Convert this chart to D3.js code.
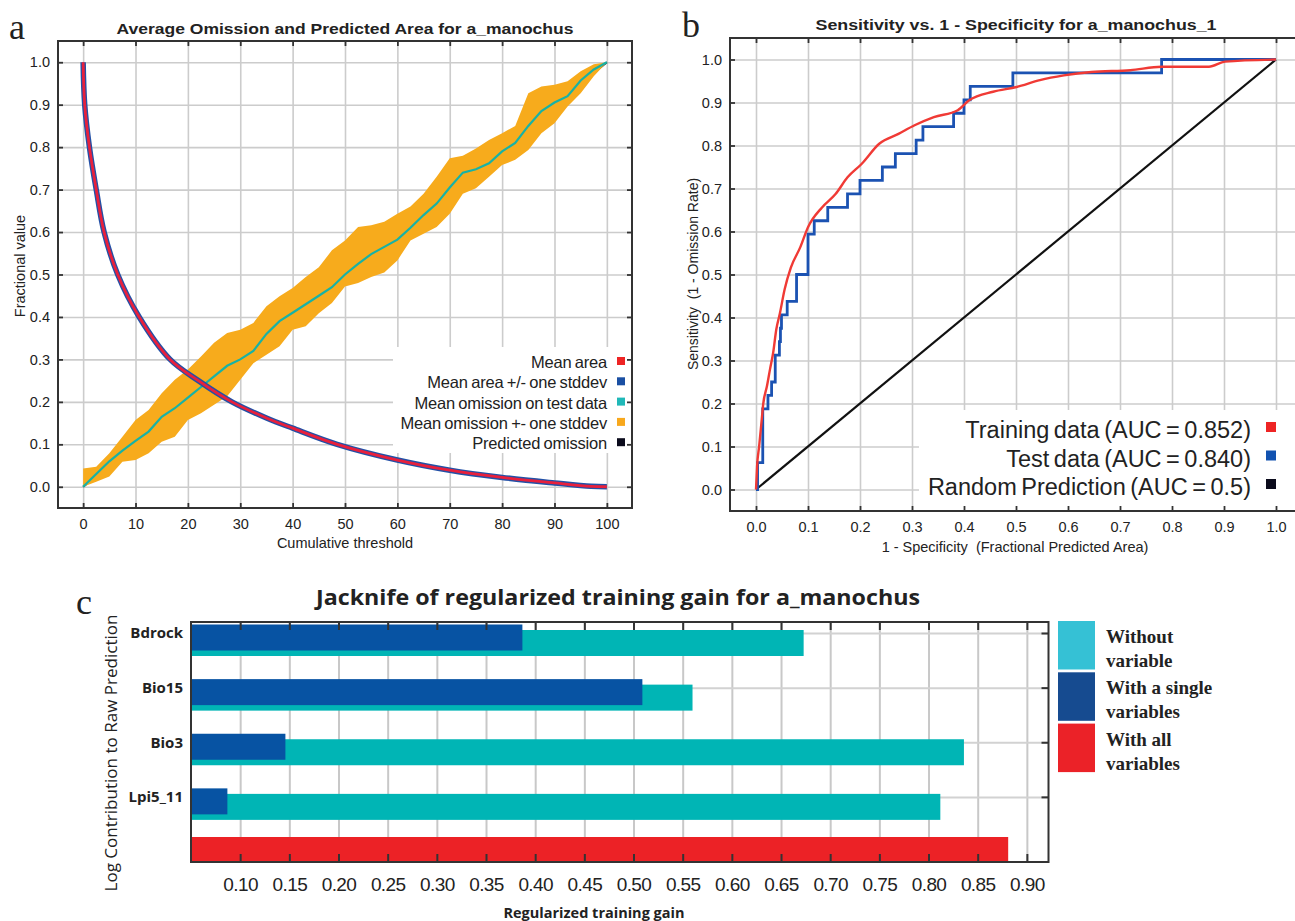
<!DOCTYPE html>
<html lang="en">
<head>
<meta charset="UTF-8">
<title>MaxEnt results for a_manochus</title>
<script src="https://cdn.jsdelivr.net/npm/d3@7"></script>
<style>
  body { margin: 0; background: #fff; }
  text { font-family: "Liberation Sans", Arial, sans-serif; fill: #222; }
</style>
</head>
<body>
<script>
// ---------- panel a : omission / predicted area ----------
var thresholds    = [0, 2.5, 5, 7.5, 10, 12.5, 15, 17.5, 20, 22.5, 25, 27.5, 30, 32.5, 35, 37.5, 40, 42.5, 45, 47.5, 50,
                     52.5, 55, 57.5, 60, 62.5, 65, 67.5, 70, 72.5, 75, 77.5, 80, 82.5, 85, 87.5, 90, 92.5, 95, 97.5, 100];
var omissionMean  = [0, 0.03, 0.06, 0.085, 0.108, 0.13, 0.165, 0.185, 0.21, 0.235, 0.26, 0.285, 0.30, 0.32, 0.36, 0.39, 0.41, 0.43, 0.45, 0.47, 0.50,
                     0.525, 0.548, 0.565, 0.582, 0.61, 0.64, 0.667, 0.705, 0.74, 0.748, 0.762, 0.79, 0.81, 0.85, 0.885, 0.905, 0.92, 0.957, 0.983, 1.0];
var omissionUpper = [0.043, 0.047, 0.079, 0.118, 0.157, 0.181, 0.22, 0.252, 0.276, 0.307, 0.339, 0.362, 0.37, 0.386, 0.425, 0.449, 0.468, 0.494, 0.517, 0.557, 0.58,
                     0.612, 0.616, 0.624, 0.643, 0.66, 0.69, 0.73, 0.774, 0.78, 0.797, 0.817, 0.833, 0.85, 0.927, 0.943, 0.947, 0.955, 0.979, 0.995, 1.0];
var omissionLower = [0, 0.012, 0.024, 0.059, 0.063, 0.079, 0.106, 0.118, 0.157, 0.173, 0.193, 0.213, 0.252, 0.291, 0.311, 0.331, 0.37, 0.378, 0.409, 0.433, 0.472,
                     0.48, 0.494, 0.505, 0.533, 0.58, 0.596, 0.612, 0.643, 0.69, 0.703, 0.73, 0.758, 0.77, 0.793, 0.833, 0.856, 0.896, 0.927, 0.967, 1.0];
var areaThreshold = [0, 0.3, 1.2, 2.5, 4.0, 6.6, 10.7, 16.6, 22, 28.4, 35, 40, 48.5, 60, 70, 80, 90, 97, 100];
var areaMean      = [1, 0.9, 0.8, 0.7, 0.6, 0.5, 0.4, 0.3, 0.25, 0.2, 0.162, 0.138, 0.1, 0.063, 0.039, 0.022, 0.009, 0.001, 0];
var predictedX    = [0, 100];
var predictedY    = [0, 1];
var aXTicks = [0, 10, 20, 30, 40, 50, 60, 70, 80, 90, 100];
var aYTicks = [0, 0.1, 0.2, 0.3, 0.4, 0.5, 0.6, 0.7, 0.8, 0.9, 1.0];
var aLegend = ["Mean area", "Mean area +/- one stddev", "Mean omission on test data", "Mean omission +- one stddev", "Predicted omission"];

// ---------- panel b : ROC ----------
var trainFPR = [0, 0.002, 0.006, 0.011, 0.014, 0.021, 0.027, 0.033, 0.039, 0.046, 0.055, 0.067, 0.085, 0.1, 0.127, 0.153, 0.176, 0.203, 0.237, 0.274, 0.305, 0.342, 0.388, 0.41, 0.456, 0.501, 0.546, 0.592, 0.645, 0.72, 0.78, 0.871, 0.902, 1];
var trainTPR = [0, 0.053, 0.1, 0.162, 0.2, 0.24, 0.28, 0.318, 0.372, 0.41, 0.465, 0.516, 0.563, 0.61, 0.656, 0.687, 0.726, 0.757, 0.804, 0.827, 0.847, 0.866, 0.882, 0.905, 0.925, 0.936, 0.952, 0.963, 0.971, 0.975, 0.983, 0.983, 0.995, 1];
var testFPR  = [0, 0.003, 0.013, 0.023, 0.03, 0.037, 0.045, 0.047, 0.049, 0.06, 0.078, 0.1, 0.112, 0.138, 0.176, 0.2, 0.243, 0.268, 0.308, 0.321, 0.38, 0.4, 0.412, 0.494, 0.78, 1.0];
var testTPR  = [0, 0.0625, 0.1875, 0.219, 0.25, 0.3125, 0.344, 0.375, 0.406, 0.4375, 0.5, 0.594, 0.625, 0.656, 0.6875, 0.719, 0.75, 0.781, 0.8125, 0.844, 0.875, 0.906, 0.9375, 0.969, 1.0, 1.0];
var randomFPR = [0, 1];
var randomTPR = [0, 1];
var bTicks = [0, 0.1, 0.2, 0.3, 0.4, 0.5, 0.6, 0.7, 0.8, 0.9, 1.0];
var bLegend = ["Training data (AUC = 0.852)", "Test data (AUC = 0.840)", "Random Prediction (AUC = 0.5)"];

// ---------- panel c : jackknife ----------
var variables     = ["Bdrock", "Bio15", "Bio3", "Lpi5_11"];
var withoutGain   = [0.673, 0.560, 0.836, 0.812];
var singleGain    = [0.387, 0.509, 0.146, 0.087];
var allGain       = 0.881;
var cTicks = [0.10, 0.15, 0.20, 0.25, 0.30, 0.35, 0.40, 0.45, 0.50, 0.55, 0.60, 0.65, 0.70, 0.75, 0.80, 0.85, 0.90];
var cLegend = [["Without", "variable"], ["With a single", "variables"], ["With all", "variables"]];

var svg = d3.select("body").append("svg")
    .attr("width", 1295)
    .attr("height", 921);

function noDomain(s) { s.select(".domain").remove(); }

// light grid behind a panel
function frame(g, x, y, xt, yt, gridColor) {
    var x0 = x.range()[0], x1 = x.range()[1];
    var yb = y.range()[0], ytop = y.range()[1];
    g.append("g").attr("transform", "translate(0," + yb + ")")
        .call(d3.axisBottom(x).tickValues(xt).tickSize(-(yb - ytop)).tickFormat(""))
        .call(noDomain)
        .selectAll("line").attr("stroke", gridColor).attr("stroke-width", 1.6);
    g.append("g").attr("transform", "translate(" + x0 + ",0)")
        .call(d3.axisLeft(y).tickValues(yt).tickSize(-(x1 - x0)).tickFormat(""))
        .call(noDomain)
        .selectAll("line").attr("stroke", gridColor).attr("stroke-width", 1.6);
}

// inward ticks on the four sides and the box
function edges(g, x, y, xt, yt) {
    var x0 = x.range()[0], x1 = x.range()[1];
    var yb = y.range()[0], ytop = y.range()[1];
    var sets = [
        [d3.axisTop(x).tickValues(xt), "translate(0," + ytop + ")"],
        [d3.axisBottom(x).tickValues(xt), "translate(0," + yb + ")"],
        [d3.axisLeft(y).tickValues(yt), "translate(" + x0 + ",0)"],
        [d3.axisRight(y).tickValues(yt), "translate(" + x1 + ",0)"]
    ];
    sets.forEach(function(s) {
        g.append("g").attr("transform", s[1])
            .call(s[0].tickSize(-5).tickFormat(""))
            .call(noDomain)
            .selectAll("line").attr("stroke", "#333").attr("stroke-width", 1.8);
    });
    g.append("rect")
        .attr("x", x0).attr("y", ytop)
        .attr("width", x1 - x0).attr("height", yb - ytop)
        .attr("fill", "none").attr("stroke", "#333").attr("stroke-width", 2);
}

function labels(g, x, y, xt, yt, fmtX, fmtY, size) {
    g.append("g").attr("transform", "translate(0," + y.range()[0] + ")")
        .call(d3.axisBottom(x).tickValues(xt).tickSize(0).tickPadding(11).tickFormat(fmtX))
        .call(noDomain)
        .selectAll("text").style("font-size", size).attr("fill", "#333");
    g.append("g").attr("transform", "translate(" + x.range()[0] + ",0)")
        .call(d3.axisLeft(y).tickValues(yt).tickSize(0).tickPadding(8).tickFormat(fmtY))
        .call(noDomain)
        .selectAll("text").style("font-size", size).attr("fill", "#333");
}

// ================= panel a =================
var xA = d3.scaleLinear().domain([-4.8, 104.8]).range([58, 632]);
var yA = d3.scaleLinear().domain([-0.05, 1.05]).range([508, 41]);
var gA = svg.append("g");

frame(gA, xA, yA, aXTicks, aYTicks, "#cccccc");

gA.append("path")
    .datum(predictedX)
    .attr("fill", "none").attr("stroke", "#111").attr("stroke-width", 2)
    .attr("d", d3.line().x(function(d) { return xA(d); }).y(function(d, i) { return yA(predictedY[i]); }));

gA.append("path")
    .datum(thresholds)
    .attr("fill", "#f7ab1c")
    .attr("d", d3.area()
        .x(function(d) { return xA(d); })
        .y0(function(d, i) { return yA(omissionLower[i]); })
        .y1(function(d, i) { return yA(omissionUpper[i]); }));

gA.append("path")
    .datum(thresholds)
    .attr("fill", "none").attr("stroke", "#17b2a6").attr("stroke-width", 2.2)
    .attr("d", d3.line().x(function(d) { return xA(d); }).y(function(d, i) { return yA(omissionMean[i]); }));

var areaLine = d3.line().curve(d3.curveCatmullRom.alpha(0.5))
    .x(function(d) { return xA(d); })
    .y(function(d, i) { return yA(areaMean[i]); });
gA.append("path").datum(areaThreshold)
    .attr("fill", "none").attr("stroke", "#2350a6").attr("stroke-width", 5.5)
    .attr("d", areaLine);
gA.append("path").datum(areaThreshold)
    .attr("fill", "none").attr("stroke", "#e8203c").attr("stroke-width", 2.8)
    .attr("d", areaLine);

// legend a
var aColors = ["#ee2424", "#1a4fa3", "#20b8b8", "#f8a81c", "#0b0b1c"];
gA.append("rect").attr("x", 393).attr("y", 347).attr("width", 238).attr("height", 106).attr("fill", "#fff");
aLegend.forEach(function(t, i) {
    var cy = 362 + i * 20.3;
    gA.append("text").attr("x", 607).attr("y", cy + 6).attr("text-anchor", "end")
        .style("font-size", "16.5px").style("letter-spacing", "-0.2px").style("word-spacing", "-1px")
        .text(t);
    gA.append("rect").attr("x", 617).attr("y", cy - 5).attr("width", 8).attr("height", 8).attr("fill", aColors[i]);
});

edges(gA, xA, yA, aXTicks, aYTicks);
labels(gA, xA, yA, aXTicks, aYTicks, d3.format("d"), d3.format(".1f"), "14.5px");

gA.append("text").attr("x", 345).attr("y", 34).attr("text-anchor", "middle")
    .style("font-size", "15px").style("font-weight", "bold")
    .attr("textLength", 457).attr("lengthAdjust", "spacingAndGlyphs")
    .text("Average Omission and Predicted Area for a_manochus");
gA.append("text").attr("x", 345).attr("y", 548).attr("text-anchor", "middle")
    .style("font-size", "14.5px").attr("fill", "#333").text("Cumulative threshold");
gA.append("text").attr("transform", "translate(25,266) rotate(-90)").attr("text-anchor", "middle")
    .style("font-size", "14.5px").attr("fill", "#333").text("Fractional value");
svg.append("text").attr("x", 9).attr("y", 39)
    .style("font-family", "'Liberation Serif', 'DejaVu Serif', serif").style("font-size", "36px")
    .text("a");

// ================= panel b =================
var xB = d3.scaleLinear().domain([-0.05, 1.05]).range([730, 1302]);
var yB = d3.scaleLinear().domain([-0.05, 1.05]).range([511, 38]);
var gB = svg.append("g");

frame(gB, xB, yB, bTicks, bTicks, "#cccccc");

// legend box hides the grid under it
gB.append("rect").attr("x", 919).attr("y", 410).attr("width", 380).attr("height", 100).attr("fill", "#fff");

function rocLine(xs, ys, curve) {
    return d3.line().curve(curve)
        .x(function(d) { return xB(d); })
        .y(function(d, i) { return yB(ys[i]); })(xs);
}
gB.append("path").attr("fill", "none").attr("stroke", "#111").attr("stroke-width", 2.2)
    .attr("d", rocLine(randomFPR, randomTPR, d3.curveLinear));
gB.append("path").attr("fill", "none").attr("stroke", "#1b52b2").attr("stroke-width", 2.8)
    .attr("d", rocLine(testFPR, testTPR, d3.curveStepAfter));
gB.append("path").attr("fill", "none").attr("stroke", "#f03a35").attr("stroke-width", 2.4)
    .attr("d", rocLine(trainFPR, trainTPR, d3.curveMonotoneX));

var bColors = ["#ee2424", "#1252b0", "#0b0b1c"];
bLegend.forEach(function(t, i) {
    var cy = 430 + i * 28.5;
    gB.append("text").attr("x", 1251).attr("y", cy + 8).attr("text-anchor", "end")
        .style("font-size", "23.5px").style("word-spacing", "-2px").attr("fill", "#333")
        .text(t);
    gB.append("rect").attr("x", 1266).attr("y", cy - 8).attr("width", 10).attr("height", 10).attr("fill", bColors[i]);
});

edges(gB, xB, yB, bTicks, bTicks);
labels(gB, xB, yB, bTicks, bTicks, d3.format(".1f"), d3.format(".1f"), "14.5px");

gB.append("text").attr("x", 1016).attr("y", 30).attr("text-anchor", "middle")
    .style("font-size", "14px").style("font-weight", "bold")
    .attr("textLength", 401).attr("lengthAdjust", "spacingAndGlyphs")
    .text("Sensitivity vs. 1 - Specificity for a_manochus_1");
gB.append("text").attr("x", 1015).attr("y", 552).attr("text-anchor", "middle")
    .style("font-size", "14.5px").attr("fill", "#333").attr("xml:space", "preserve")
    .text("1 - Specificity  (Fractional Predicted Area)");
gB.append("text").attr("transform", "translate(698,274) rotate(-90)").attr("text-anchor", "middle")
    .style("font-size", "14px").attr("fill", "#333").attr("xml:space", "preserve")
    .text("Sensitivity  (1 - Omission Rate)");
svg.append("text").attr("x", 682).attr("y", 37)
    .style("font-family", "'Liberation Serif', 'DejaVu Serif', serif").style("font-size", "36px")
    .text("b");

// ================= panel c =================
var xC = d3.scaleLinear().domain([0.05, 0.922]).range([191, 1048.5]);
var yC = d3.scalePoint().domain(variables.concat(["all"])).range([633, 851.5]);
var gC = svg.append("g");
var yCtop = 622, yCbot = 862;

gC.append("g").attr("transform", "translate(0," + yCbot + ")")
    .call(d3.axisBottom(xC).tickValues(cTicks).tickSize(-(yCbot - yCtop)).tickFormat(""))
    .call(noDomain)
    .selectAll("line").attr("stroke", "#c8c8c8").attr("stroke-width", 2);
gC.append("g").attr("transform", "translate(191,0)")
    .call(d3.axisLeft(yC).tickValues(variables).tickSize(-(1048.5 - 191)).tickFormat(""))
    .call(noDomain)
    .selectAll("line").attr("stroke", "#d2d2d2").attr("stroke-width", 2);

gC.selectAll(".without").data(variables).enter().append("rect")
    .attr("x", xC(0.05))
    .attr("y", function(d) { return yC(d) - 3; })
    .attr("width", function(d, i) { return xC(withoutGain[i]) - xC(0.05); })
    .attr("height", 26)
    .attr("fill", "#00b5b5");
gC.selectAll(".single").data(variables).enter().append("rect")
    .attr("x", xC(0.05))
    .attr("y", function(d) { return yC(d) - 8.5; })
    .attr("width", function(d, i) { return xC(singleGain[i]) - xC(0.05); })
    .attr("height", 26)
    .attr("fill", "#0753a3");
gC.append("rect")
    .attr("x", xC(0.05))
    .attr("y", yC("all") - 14.5)
    .attr("width", xC(allGain) - xC(0.05))
    .attr("height", 25)
    .attr("fill", "#ec2226");

// frame + inward ticks
gC.append("g").attr("transform", "translate(0," + yCtop + ")")
    .call(d3.axisTop(xC).tickValues(cTicks).tickSize(-8).tickFormat(""))
    .call(noDomain)
    .selectAll("line").attr("stroke", "#333").attr("stroke-width", 2);
gC.append("g").attr("transform", "translate(0," + yCbot + ")")
    .call(d3.axisBottom(xC).tickValues(cTicks).tickSize(-8).tickFormat(""))
    .call(noDomain)
    .selectAll("line").attr("stroke", "#333").attr("stroke-width", 2);
gC.append("g").attr("transform", "translate(1048.5,0)")
    .call(d3.axisRight(yC).tickValues(variables).tickSize(-7).tickFormat(""))
    .call(noDomain)
    .selectAll("line").attr("stroke", "#333").attr("stroke-width", 2);
gC.append("rect").attr("x", 191).attr("y", yCtop).attr("width", 1048.5 - 191).attr("height", yCbot - yCtop)
    .attr("fill", "none").attr("stroke", "#333").attr("stroke-width", 2);

gC.append("g").attr("transform", "translate(0," + yCbot + ")")
    .call(d3.axisBottom(xC).tickValues(cTicks).tickSize(0).tickPadding(16).tickFormat(d3.format(".2f")))
    .call(noDomain)
    .selectAll("text").style("font-size", "19px").style("letter-spacing", "-0.6px").attr("fill", "#444");
gC.append("g").attr("transform", "translate(191,0)")
    .call(d3.axisLeft(yC).tickValues(variables).tickSize(0).tickPadding(8))
    .call(noDomain)
    .selectAll("text").style("font-family", "'Open Sans', sans-serif").style("font-size", "15px")
    .style("font-weight", "bold").attr("fill", "#111");

gC.append("text").attr("x", 618).attr("y", 605).attr("text-anchor", "middle")
    .style("font-family", "'Open Sans', sans-serif").style("font-size", "21px").style("font-weight", "bold")
    .attr("fill", "#111").attr("textLength", 604).attr("lengthAdjust", "spacingAndGlyphs")
    .text("Jacknife of regularized training gain for a_manochus");
gC.append("text").attr("x", 594).attr("y", 918).attr("text-anchor", "middle")
    .style("font-family", "'Open Sans', sans-serif").style("font-size", "14.5px").style("font-weight", "bold")
    .attr("fill", "#111").text("Regularized training gain");
gC.append("text").attr("transform", "translate(117,753) rotate(-90)").attr("text-anchor", "middle")
    .style("font-family", "'Open Sans', sans-serif").style("font-size", "17px")
    .attr("fill", "#333").attr("textLength", 277).attr("lengthAdjust", "spacingAndGlyphs")
    .text("Log Contribution to Raw Prediction");
svg.append("text").attr("x", 76).attr("y", 614)
    .style("font-family", "'Liberation Serif', 'DejaVu Serif', serif").style("font-size", "36px")
    .text("c");

var cColors = ["#35c1d5", "#164b90", "#eb2228"];
cLegend.forEach(function(lines, i) {
    var top = 621 + i * 51.3;
    gC.append("rect").attr("x", 1058).attr("y", top).attr("width", 37).attr("height", 48.5).attr("fill", cColors[i]);
    lines.forEach(function(t, j) {
        gC.append("text").attr("x", 1106).attr("y", top + 22 + j * 24)
            .style("font-family", "'Liberation Serif', 'Times New Roman', serif")
            .style("font-size", "19px").style("font-weight", "bold").attr("fill", "#111")
            .text(t);
    });
});
</script>
</body>
</html>
